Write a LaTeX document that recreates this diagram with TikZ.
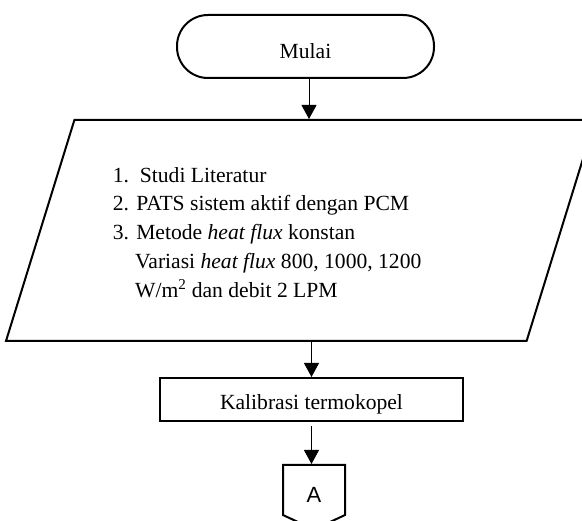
\documentclass[tikz,border=0pt]{standalone}
\usepackage{fontspec}
\setmainfont{Liberation Serif}
\setsansfont{Liberation Sans}
\usetikzlibrary{shapes.geometric,shapes.symbols,arrows.meta}

\begin{document}
\begin{tikzpicture}[
    x=1pt, y=-1pt,
    font=\fontsize{21.6}{28.8}\selectfont,
    terminal/.style={rectangle, draw, line width=2pt, rounded corners=31pt, minimum width=257pt, minimum height=63pt},
    io/.style={trapezium, draw, line width=2pt, trapezium left angle=72.8, trapezium right angle=107.2, inner xsep=226.1pt, inner ysep=110.5pt},
    box/.style={rectangle, draw, line width=2pt, minimum width=303pt, minimum height=43pt},
    offpage/.style={signal, draw, line width=2pt, signal to=south, signal pointer angle=130, minimum width=62pt, minimum height=55pt, font=\fontsize{22}{26}\selectfont\sffamily},
    arrow/.style={-{Triangle[length=14pt,width=15pt]}, line width=1pt}
]
\useasboundingbox (0,0) rectangle (582,521);
\clip (0,0) rectangle (582,521);

\node[terminal, text height=24pt, text depth=0pt] (mulai) at (305.5,46.5) {Mulai};
\node[io] (input) at (300.5,230.5) {};
\node[anchor=north west, align=left, inner sep=0pt] (langkah) at (112.7,167) {1.\ \ Studi Literatur\\
    2. PATS sistem aktif dengan PCM\\
    3. Metode \textit{heat flux} konstan\\
    \hspace*{22.3pt}Variasi \textit{heat flux} 800, 1000, 1200\\
    \hspace*{22.3pt}W/m\textsuperscript{2} dan debit 2 LPM};
\node[box, text height=20pt, text depth=0pt] (kalibrasi) at (311.5,399.5) {Kalibrasi termokopel};
\node[offpage, anchor=north, text height=25pt, text depth=0pt] (konektorA) at (314,464) {A};

\draw[arrow] ([xshift=3.5pt]mulai.south) -- ([xshift=3.5pt]mulai.south |- input.north);
\draw[arrow] (kalibrasi.north |- input.south) -- (kalibrasi.north);
\draw[arrow] ([yshift=-4pt]kalibrasi.south) -- (kalibrasi.south |- konektorA.north);

\end{tikzpicture}
\end{document}
